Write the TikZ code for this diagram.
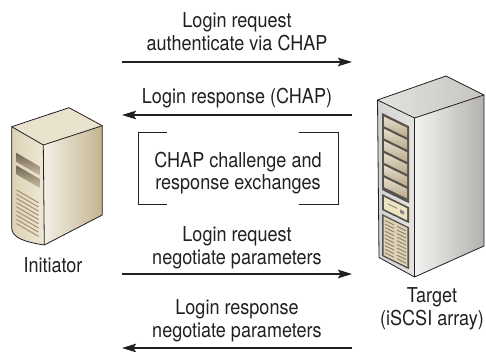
\documentclass[tikz,border=0pt]{standalone}
\usepackage{fontspec}
\setmainfont{TeX Gyre Heros}[FakeStretch=0.88]
\usetikzlibrary{arrows.meta}

\definecolor{ink}{HTML}{231F20}
% initiator (beige tower)
\definecolor{itop}{HTML}{E9E2CD}
\definecolor{ifrontA}{HTML}{DCD2B6}
\definecolor{ifrontB}{HTML}{EEE8D6}
\definecolor{isideA}{HTML}{F4F0E5}
\definecolor{isideB}{HTML}{C4B391}
\definecolor{islotA}{HTML}{6F6555}
\definecolor{islotB}{HTML}{CDBF9F}
\definecolor{ivent}{HTML}{A89676}
% target (grey array)
\definecolor{ttopA}{HTML}{E4E3DF}
\definecolor{ttopB}{HTML}{C6C4BF}
\definecolor{tfrontA}{HTML}{D2D2D0}
\definecolor{tfrontB}{HTML}{E4E4E2}
\definecolor{tsideA}{HTML}{F3F3F1}
\definecolor{tsideB}{HTML}{B3B2AE}
\definecolor{tbay}{HTML}{57534B}
\definecolor{tdriveA}{HTML}{E6DDCB}
\definecolor{tdriveB}{HTML}{B9A88C}
\definecolor{tpanel}{HTML}{EDE4C4}
\definecolor{tgrille}{HTML}{DDD2B8}
\definecolor{tvent}{HTML}{8C8068}

\begin{document}
\begin{tikzpicture}[x=1pt,y=-1pt,
  lbl/.style={font=\fontsize{20.5}{22.8}\selectfont, text=ink, align=center,
              inner sep=0pt, anchor=base},
  msg/.style={draw=ink, line width=1.8pt,
              -{Stealth[length=14pt,width=8.5pt,inset=2.5pt]}},
  brk/.style={draw=ink, line width=1pt},
  outline/.style={draw=ink, line width=0.8pt, line join=round}]
\useasboundingbox (0,0) rectangle (486,352);

% ---------- initiator tower ----------
\shade[left color=isideA, right color=isideB]
  (43.3,145) -- (102.3,125.7) -- (102.3,215) -- (44.3,245) -- cycle;
\fill[itop] (11.7,126.7) -- (69,107.7) -- (102.3,125.7) -- (43.3,145) -- cycle;
\shade[left color=ifrontA, right color=ifrontB]
  (11.7,126.7) -- (43.3,145) -- (44.3,245)
  .. controls (25,242) and (12,238) .. (11.7,228) -- cycle;
\begin{scope}[shift={(16.5,153)}, yslant=-0.58]
  \shade[top color=islotA, bottom color=islotB] (0,0) rectangle (23,9);
  \shade[top color=islotA, bottom color=islotB] (0,12.5) rectangle (23,21.5);
  \foreach \v in {0,4.2,...,34}
    \draw[ivent, line width=1.1pt] (0,37+\v) -- (22,37+\v);
\end{scope}
\draw[outline] (11.7,126.7) -- (69,107.7) -- (102.3,125.7) -- (102.3,215)
  -- (44.3,245) .. controls (25,242) and (12,238) .. (11.7,228) -- cycle;
\draw[outline] (11.7,126.7) -- (43.3,145) -- (102.3,125.7);
\draw[outline] (43.3,145) -- (44.3,245);

% ---------- target array ----------
\shade[left color=tsideA, right color=tsideB]
  (414.5,118) -- (484,95) -- (484,246) -- (414.5,277) -- cycle;
\shade[left color=ttopA, right color=ttopB]
  (377.5,100) -- (446,76) -- (484,95) -- (414.5,118) -- cycle;
\shade[left color=tfrontA, right color=tfrontB]
  (377.5,100) -- (414.5,118) -- (414.5,277) -- (379,257.5) -- cycle;
% drive bays
\begin{scope}[shift={(382,113)}, yslant=-0.49]
  \fill[tbay] (0,0) rectangle (27,77);
  \foreach \i in {0,...,5}
    \shade[top color=tdriveA, bottom color=tdriveB]
      (2,2.6+12.2*\i) rectangle (25,12.2+12.2*\i);
\end{scope}
% control panel
\begin{scope}[shift={(382,194)}, yslant=-0.49]
  \fill[tbay] (0,0) rectangle (27,16);
  \fill[tpanel] (2,2) rectangle (25,14);
  \draw[tvent, line width=0.8pt] (6,7) -- (15,7);
  \fill[tbay!70] (18,6.5) rectangle (22,10);
\end{scope}
% intake grille
\begin{scope}[shift={(382,214)}, yslant=-0.49]
  \fill[tbay] (0,0) rectangle (27,42);
  \fill[tgrille] (1.6,1.6) rectangle (25.4,40.4);
  \foreach \v in {0,...,9} {
    \draw[tvent, line width=0.9pt] (3,5+3.6*\v) -- (12,5+3.6*\v);
    \draw[tvent, line width=0.9pt] (15,5+3.6*\v) -- (24,5+3.6*\v);
  }
\end{scope}
\draw[outline] (377.5,100) -- (446,76) -- (484,95) -- (484,246)
  -- (414.5,277) -- (379,257.5) -- cycle;
\draw[outline] (377.5,100) -- (414.5,118) -- (484,95);
\draw[outline] (414.5,118) -- (414.5,277);

% ---------- device labels (base = last baseline) ----------
\node[lbl] (init) at (53,272) {Initiator};
\node[lbl] (targ) at (432,325) {Target\\(iSCSI array)};

% ---------- message exchange ----------
\coordinate (l1) at (122,62);  \coordinate (r1) at (352,62);
\coordinate (l2) at (122,115); \coordinate (r2) at (352,115);
\coordinate (l4) at (122,274); \coordinate (r4) at (352,274);
\coordinate (l5) at (122,348); \coordinate (r5) at (352,348);

\node[lbl] (m1) at (237,50.5) {Login request\\authenticate via CHAP};
\draw[msg] (l1) -- (r1);
\node[lbl] (m2) at (237,103.5) {Login response (CHAP)};
\draw[msg] (r2) -- (l2);
\node[lbl] (m3) at (238,190) {CHAP challenge and\\response exchanges};
\draw[brk] (167,133) -- (138,133) -- (138,205) -- (167,205);
\draw[brk] (299,133) -- (338,133) -- (338,205) -- (299,205);
\node[lbl] (m4) at (237,264.5) {Login request\\negotiate parameters};
\draw[msg] (l4) -- (r4);
\node[lbl] (m5) at (237,337.5) {Login response\\negotiate parameters};
\draw[msg] (r5) -- (l5);
\end{tikzpicture}
\end{document}
